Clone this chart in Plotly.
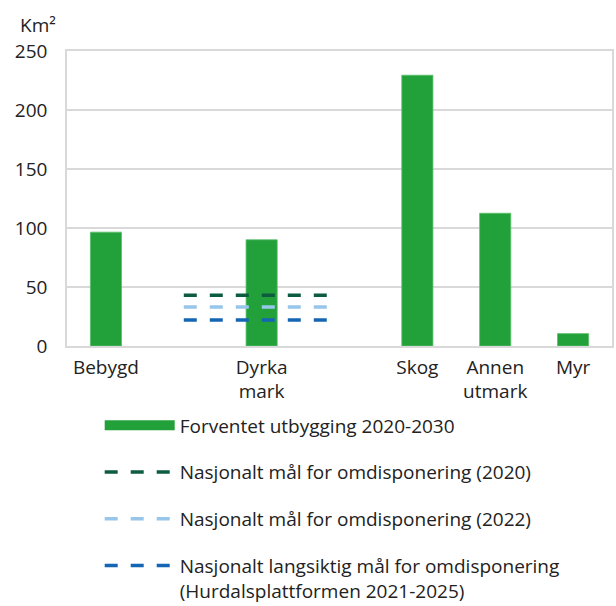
import plotly.graph_objects as go

# Land categories (blank slots keep the wider spacing between groups)
categories = ["Bebygd", "", "Dyrka<br>mark", "", "Skog", "Annen<br>utmark", "Myr"]
utbygging = [96.5, None, 90, None, 229.5, 112.5, 10.5]

# National targets, drawn across the "Dyrka mark" slot
target_span = [1, 3]
mal_2020 = [43, 43]
mal_2022 = [33, 33]
mal_langsiktig = [22, 22]

bar_name = "Forventet utbygging 2020-2030"
line_names = [
    "Nasjonalt mål for omdisponering (2020)",
    "Nasjonalt mål for omdisponering (2022)",
    "Nasjonalt langsiktig mål for omdisponering<br>(Hurdalsplattformen 2021-2025)",
]
line_values = [mal_2020, mal_2022, mal_langsiktig]
line_colors = ["#0d5c40", "#97c6ea", "#1565b5"]
bar_color = "#22a03a"

positions = list(range(len(categories)))
tick_pos = [p for p, c in zip(positions, categories) if c]
tick_txt = [c for c in categories if c]

fig = go.Figure()
fig.add_trace(go.Bar(
    x=positions, y=utbygging, name=bar_name,
    marker=dict(color=bar_color, line=dict(color="#5cbf6c", width=0.8)),
    width=0.4, showlegend=False,
))
# legend entry for the bars, shown as a wide green swatch
fig.add_trace(go.Scatter(
    x=[None], y=[None], mode="lines", name=bar_name,
    line=dict(color=bar_color, width=12), legendgroup="a",
))
for nm, vals, col, grp in zip(line_names, line_values, line_colors, ["b", "c", "d"]):
    fig.add_trace(go.Scatter(
        x=target_span, y=vals, mode="lines", name=nm, legendgroup=grp,
        line=dict(color=col, width=3.5, dash="13px,13px"),
        hoverinfo="skip",
    ))

font = dict(family="Open Sans, sans-serif", size=19, color="#222222")
grid = "#d9d9d9"

fig.update_layout(
    width=616, height=606,
    margin=dict(l=67, r=4, t=51, b=260, autoexpand=False),
    paper_bgcolor="white", plot_bgcolor="white",
    font=font,
    xaxis=dict(
        range=[-0.5, 6.5], tickvals=tick_pos, ticktext=tick_txt,
        showgrid=False, showline=True, linecolor=grid, linewidth=1.5,
        mirror=True, ticks="", zeroline=False, ticklabelstandoff=3,
    ),
    yaxis=dict(
        range=[0, 250], dtick=50, showgrid=True, gridcolor=grid, gridwidth=1.5,
        showline=True, linecolor=grid, linewidth=1.5, mirror=True,
        zeroline=False, ticks="", ticklabelstandoff=14,
    ),
    legend=dict(
        x=0.06, xanchor="left", y=-0.205, yanchor="top",
        traceorder="grouped", tracegroupgap=19, itemwidth=70,
        valign="top", font=font, bgcolor="rgba(0,0,0,0)",
    ),
    annotations=[dict(
        text="Km²", xref="paper", yref="paper", x=-0.054, y=1.088,
        xanchor="center", yanchor="middle", showarrow=False, font=font,
    )],
    showlegend=True,
)

fig.write_html("out.html")
